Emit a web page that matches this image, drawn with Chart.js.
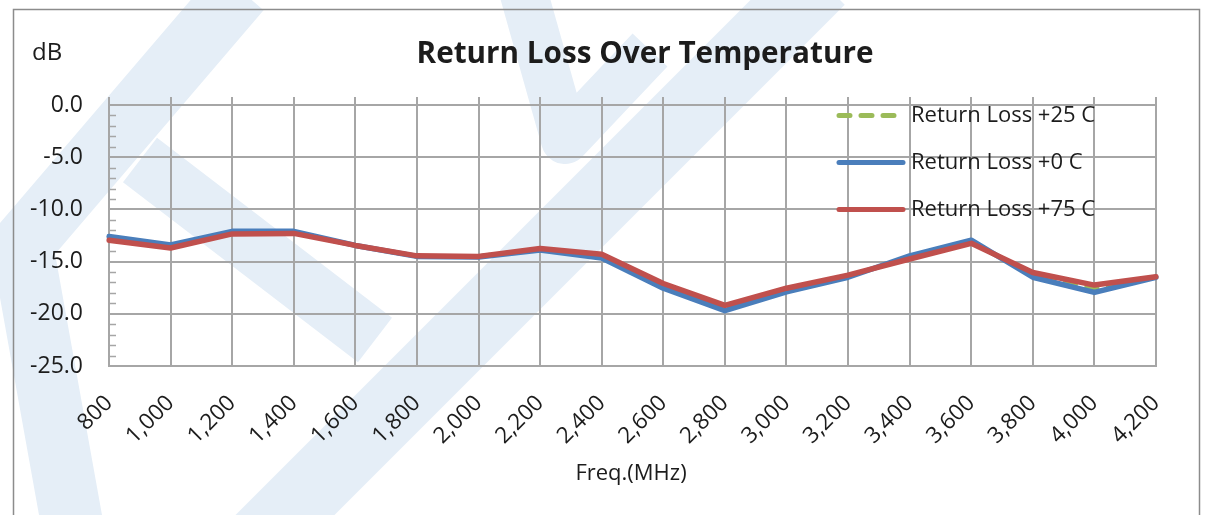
<!DOCTYPE html>
<html>
<head>
<meta charset="utf-8">
<script src="https://cdn.jsdelivr.net/npm/chart.js@4.4.1/dist/chart.umd.min.js"></script>
<style>
  html, body { margin: 0; padding: 0; background: #ffffff; }
  #wrap { position: relative; width: 1206px; height: 515px; }
</style>
</head>
<body>
<div id="wrap"><canvas id="c"></canvas></div>
<script>
// ---- data ----
const freqs = [800, 1000, 1200, 1400, 1600, 1800, 2000, 2200, 2400, 2600, 2800, 3000, 3200, 3400, 3600, 3800, 4000, 4200];
const rl25 = [-12.8, -13.55, -12.2, -12.2, -13.45, -14.5, -14.5, -13.8, -14.5, -17.3, -19.45, -17.7, -16.4, -14.6, -13.1, -16.3, -17.6, -16.5];
const rl0  = [-12.6, -13.4, -12.1, -12.1, -13.45, -14.5, -14.55, -13.9, -14.65, -17.55, -19.7, -17.9, -16.5, -14.45, -12.95, -16.5, -17.95, -16.5];
const rl75 = [-12.95, -13.7, -12.35, -12.3, -13.45, -14.45, -14.5, -13.75, -14.3, -17.1, -19.2, -17.55, -16.3, -14.75, -13.25, -16.05, -17.25, -16.45];
const seriesNames = ['Return Loss +25 C', 'Return Loss +0 C', 'Return Loss +75 C'];
const yTicks = [0, -5, -10, -15, -20, -25];
const chartTitle = 'Return Loss Over Temperature';
const yUnit = 'dB';
const xTitle = 'Freq.(MHz)';

// ---- styles ----
const FONT = '"Open Sans", "Noto Sans", sans-serif';
const TXT = '#1c1c1c';
const GRID = '#a6a6a6';
const COLORS = ['#9bbb59', '#4a7ebb', '#c0504d'];

const labels = freqs.map(f => f.toLocaleString('en-US'));

const watermark = {
  id: 'watermark',
  beforeDraw(chart) {
    const ctx = chart.ctx;
    ctx.save();
    ctx.strokeStyle = '#e5eef7';
    ctx.lineCap = 'butt';
    ctx.lineJoin = 'round';
    const band = (pts, w) => {
      ctx.lineWidth = w;
      ctx.beginPath();
      ctx.moveTo(pts[0][0], pts[0][1]);
      for (let i = 1; i < pts.length; i++) ctx.lineTo(pts[i][0], pts[i][1]);
      ctx.stroke();
    };
    band([[240, -10], [22, 245], [75, 540]], 62);
    band([[140, 160], [375, 340]], 56);
    band([[260, 540], [820, -20]], 70);
    band([[520, -20], [565, 140], [650, 50]], 48);
    ctx.restore();
    // outer frame
    ctx.save();
    ctx.strokeStyle = '#8c8c8c';
    ctx.lineWidth = 1.5;
    ctx.strokeRect(13.5, 9.5, 1186, 530);
    ctx.restore();
  }
};

const decorations = {
  id: 'decorations',
  beforeDatasetsDraw(chart) {
    const ctx = chart.ctx;
    const xs = chart.scales.x, ys = chart.scales.y;
    const a = chart.chartArea;
    ctx.save();
    ctx.strokeStyle = GRID;
    ctx.lineWidth = 2;
    // tick marks above the plot (horizontal axis crosses at 0)
    for (let i = 0; i < labels.length; i++) {
      const x = Math.round(xs.getPixelForValue(i));
      ctx.beginPath(); ctx.moveTo(x, a.top - 8); ctx.lineTo(x, a.top); ctx.stroke();
    }
    // minor ticks on value axis
    ctx.lineWidth = 1.5;
    for (let v = -1; v > -25; v--) {
      if (v % 5 === 0) continue;
      const y = Math.round(ys.getPixelForValue(v)) + 0.5;
      ctx.beginPath(); ctx.moveTo(a.left, y); ctx.lineTo(a.left + 7, y); ctx.stroke();
    }
    ctx.restore();
  },
  afterDraw(chart) {
    const ctx = chart.ctx;
    ctx.save();
    ctx.fillStyle = TXT;
    // title
    ctx.font = 'bold 29.7px ' + FONT;
    ctx.textAlign = 'center';
    ctx.textBaseline = 'alphabetic';
    ctx.fillText(chartTitle, 645, 63);
    // unit
    ctx.font = '24px ' + FONT;
    ctx.textAlign = 'left';
    ctx.fillText(yUnit, 32, 60);
    // x title
    ctx.font = '22px ' + FONT;
    ctx.textAlign = 'center';
    ctx.fillText(xTitle, 631, 480);
    // legend
    const legY = [115.5, 162.5, 209.5];
    chart.data.datasets.forEach((ds, i) => {
      const y = legY[i];
      ctx.strokeStyle = ds.borderColor;
      ctx.lineWidth = 5;
      ctx.lineCap = 'round';
      ctx.setLineDash(ds.borderDash || []);
      ctx.beginPath(); ctx.moveTo(839, y); ctx.lineTo(i === 0 ? 896 : 903, y); ctx.stroke();
      ctx.setLineDash([]);
      ctx.fillStyle = TXT;
      ctx.font = '22px ' + FONT;
      ctx.textAlign = 'left';
      ctx.textBaseline = 'middle';
      ctx.fillText(ds.label, 911, y);
    });
    ctx.restore();
  }
};

new Chart(document.getElementById('c'), {
  type: 'line',
  data: {
    labels: labels,
    datasets: [
      { label: seriesNames[0], data: rl25, borderColor: COLORS[0], borderWidth: 4.5, borderDash: [11, 11], borderCapStyle: 'round', pointRadius: 0, tension: 0, order: 3, fill: false },
      { label: seriesNames[1], data: rl0,  borderColor: COLORS[1], borderWidth: 5.5, borderCapStyle: 'round', borderJoinStyle: 'round', pointRadius: 0, tension: 0, order: 2, fill: false },
      { label: seriesNames[2], data: rl75, borderColor: COLORS[2], borderWidth: 5.5, borderCapStyle: 'round', borderJoinStyle: 'round', pointRadius: 0, tension: 0, order: 1, fill: false }
    ]
  },
  options: {
    responsive: true,
    maintainAspectRatio: false,
    animation: false,
    events: [],
    layout: { padding: { left: 0, right: 50, top: 105, bottom: 0 } },
    plugins: {
      legend: { display: false },
      title: { display: false },
      tooltip: { enabled: false }
    },
    scales: {
      x: {
        type: 'category',
        offset: false,
        grid: { color: GRID, lineWidth: 2, drawTicks: false },
        border: { display: true, color: GRID, width: 2 },
        ticks: {
          autoSkip: false, maxRotation: 45, minRotation: 45, padding: 24,
          color: TXT, font: { family: FONT, size: 22.5 }
        },
        afterFit: s => { s.height = 149; }
      },
      y: {
        min: -25, max: 0,
        afterBuildTicks: s => { s.ticks = yTicks.map(v => ({ value: v })); },
        grid: { color: GRID, lineWidth: 2, drawTicks: false },
        border: { display: true, color: GRID, width: 2 },
        ticks: {
          padding: 26, color: TXT, font: { family: FONT, size: 23 },
          callback: v => Number(v).toFixed(1)
        },
        afterFit: s => { s.width = 109; }
      }
    }
  },
  plugins: [watermark, decorations]
});
</script>
</body>
</html>
